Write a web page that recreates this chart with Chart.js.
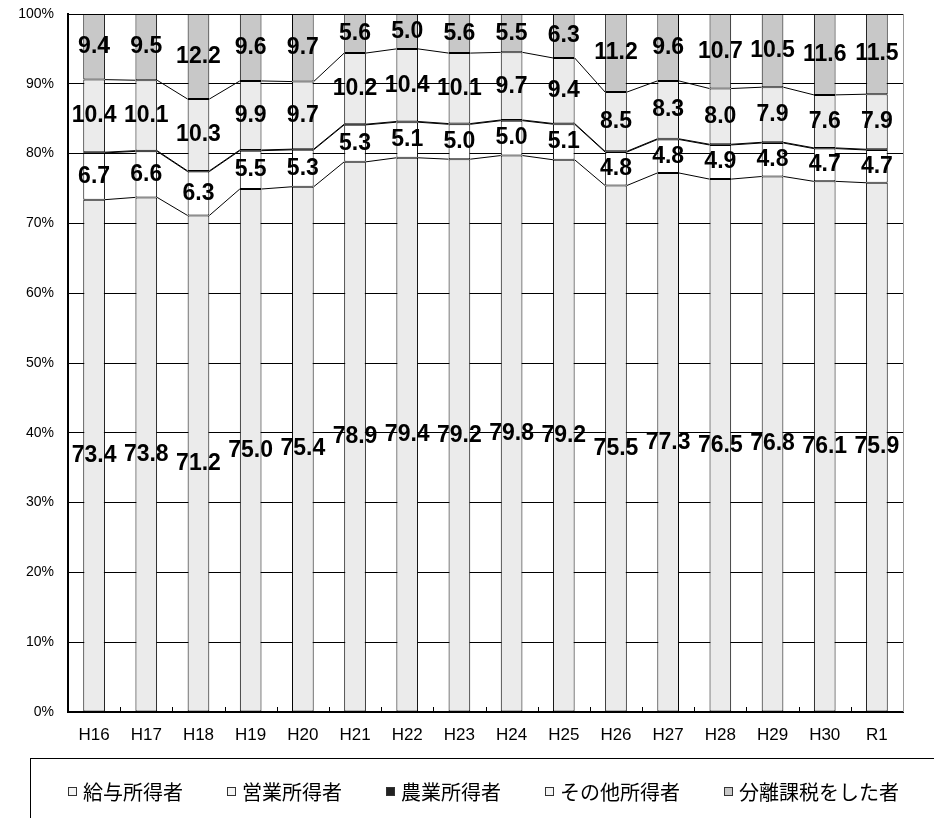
<!DOCTYPE html>
<html lang="ja">
<head>
  <meta charset="UTF-8">
  <title>所得者区分別の構成比</title>
  <script src="https://cdn.jsdelivr.net/npm/chart.js"></script>
  <style>
    html, body { margin: 0; padding: 0; background: #fff; }
    #wrap { position: relative; width: 934px; height: 818px; }
  </style>
</head>
<body>
  <div id="wrap"><canvas id="shareChart"></canvas></div>

  <script>
    // Values (percent of taxpayers)
    const years  = ['H16', 'H17', 'H18', 'H19', 'H20', 'H21', 'H22', 'H23', 'H24', 'H25', 'H26', 'H27', 'H28', 'H29', 'H30', 'R1'];
    const kyuyo  = [73.4, 73.8, 71.2, 75.0, 75.4, 78.9, 79.4, 79.2, 79.8, 79.2, 75.5, 77.3, 76.5, 76.8, 76.1, 75.9];
    const eigyo  = [6.7, 6.6, 6.3, 5.5, 5.3, 5.3, 5.1, 5.0, 5.0, 5.1, 4.8, 4.8, 4.9, 4.8, 4.7, 4.7];
    const nogyo  = [0.1, 0.1, 0.1, 0.1, 0.1, 0.1, 0.1, 0.1, 0.1, 0.1, 0.1, 0.1, 0.1, 0.1, 0.1, 0.1];
    const sonota = [10.4, 10.1, 10.3, 9.9, 9.7, 10.2, 10.4, 10.1, 9.7, 9.4, 8.5, 8.3, 8.0, 7.9, 7.6, 7.9];
    const bunri  = [9.4, 9.5, 12.2, 9.6, 9.7, 5.6, 5.0, 5.6, 5.5, 6.3, 11.2, 9.6, 10.7, 10.5, 11.6, 11.5];
    const seriesNames  = ['給与所得者', '営業所得者', '農業所得者', 'その他所得者', '分離課税をした者'];
    const seriesColors = ['#ebebeb', '#ffffff', '#000000', '#ebebeb', '#c8c8c8'];
    const labelledSeries = [true, true, false, true, true];

    const raw = [kyuyo, eigyo, nogyo, sonota, bunri];

    // 100% stacked: share of each category total
    const totals = years.map((_, j) => raw.reduce((s, arr) => s + arr[j], 0));
    const datasets = raw.map((arr, i) => ({
      label: seriesNames[i],
      data: arr.map((v, j) => v / totals[j] * 100),
      rawValues: arr,
      backgroundColor: seriesColors[i],
      borderColor: '#000',
      borderWidth: i === 2 ? 0 : 1,
      borderSkipped: false,
      barPercentage: 0.415,
      categoryPercentage: 1.0
    }));

    // lines joining segment tops between neighbouring bars + right frame + inner ticks
    const seriesLines = {
      id: 'seriesLines',
      afterDatasetsDraw(chart) {
        const ctx = chart.ctx;
        const area = chart.chartArea;
        ctx.save();
        ctx.strokeStyle = '#000';
        ctx.lineWidth = 1;
        for (let d = 0; d < 4; d++) {
          const bars = chart.getDatasetMeta(d).data;
          ctx.beginPath();
          for (let j = 0; j < bars.length - 1; j++) {
            const a = bars[j], b = bars[j + 1];
            ctx.moveTo(a.x + a.width / 2, a.y);
            ctx.lineTo(b.x - b.width / 2, b.y);
          }
          ctx.stroke();
        }
        // small ticks between categories, pointing up
        const xs = chart.scales.x;
        ctx.beginPath();
        for (let j = 1; j < years.length; j++) {
          const x = Math.round((xs.getPixelForValue(j - 1) + xs.getPixelForValue(j)) / 2) + 0.5;
          ctx.moveTo(x, area.bottom);
          ctx.lineTo(x, area.bottom - 5);
        }
        ctx.stroke();
        // right edge of plot area
        ctx.strokeStyle = '#9a9a9a';
        ctx.beginPath();
        ctx.moveTo(Math.round(area.right) + 0.5, area.top);
        ctx.lineTo(Math.round(area.right) + 0.5, area.bottom);
        ctx.stroke();
        ctx.restore();
      }
    };

    // value labels in the middle of each segment
    const valueLabels = {
      id: 'valueLabels',
      afterDatasetsDraw(chart) {
        const ctx = chart.ctx;
        ctx.save();
        ctx.font = 'bold 23px "Liberation Sans", Arial, sans-serif';
        ctx.fillStyle = '#000';
        ctx.textAlign = 'center';
        ctx.textBaseline = 'middle';
        chart.data.datasets.forEach((ds, i) => {
          if (!labelledSeries[i]) return;
          chart.getDatasetMeta(i).data.forEach((bar, j) => {
            const y = (bar.y + bar.base) / 2;
            ctx.fillText(ds.rawValues[j].toFixed(1), bar.x, y);
          });
        });
        ctx.restore();
      }
    };

    // boxed legend under the chart
    const boxLegend = {
      id: 'boxLegend',
      afterDraw(chart) {
        const ctx = chart.ctx;
        ctx.save();
        ctx.strokeStyle = '#000';
        ctx.lineWidth = 1;
        ctx.strokeRect(30.5, 758.5, 960, 120);
        ctx.font = '20px "Noto Sans CJK JP", sans-serif';
        ctx.textBaseline = 'middle';
        let x = 68;
        const y = 792;
        chart.data.datasets.forEach((ds, i) => {
          ctx.fillStyle = i === 2 ? '#222' : (i === 4 ? '#c8c8c8' : '#f4f4f4');
          ctx.fillRect(x, y - 5, 9, 9);
          ctx.strokeStyle = '#333';
          ctx.strokeRect(x + 0.5, y - 4.5, 8, 8);
          ctx.fillStyle = '#000';
          ctx.fillText(ds.label, x + 15, y);
          x += 15 + ctx.measureText(ds.label).width + 44;
        });
        ctx.restore();
      }
    };

    new Chart(document.getElementById('shareChart'), {
      type: 'bar',
      data: { labels: years, datasets: datasets },
      options: {
        responsive: true,
        maintainAspectRatio: false,
        animation: false,
        layout: { padding: { left: 0, right: 31, top: 14, bottom: 0 } },
        plugins: {
          legend: { display: false },
          tooltip: { enabled: false }
        },
        scales: {
          x: {
            stacked: true,
            grid: { display: false, drawTicks: false },
            border: { display: true, color: '#000', width: 2 },
            ticks: {
              color: '#000',
              padding: 13,
              font: { family: '"Liberation Sans", Arial, sans-serif', size: 17 }
            },
            afterFit(scale) { scale.height = 106; }
          },
          y: {
            stacked: true,
            min: 0,
            max: 100,
            grid: { color: '#000', lineWidth: 1, drawTicks: true, tickLength: 14, tickColor: 'rgba(0,0,0,0)' },
            border: { display: true, color: '#000', width: 2 },
            ticks: {
              stepSize: 10,
              color: '#000',
              padding: 0,
              font: { family: '"Liberation Sans", Arial, sans-serif', size: 14 },
              callback: v => v + '%'
            },
            afterFit(scale) { scale.width = 68; }
          }
        }
      },
      plugins: [seriesLines, valueLabels, boxLegend]
    });
  </script>
</body>
</html>
